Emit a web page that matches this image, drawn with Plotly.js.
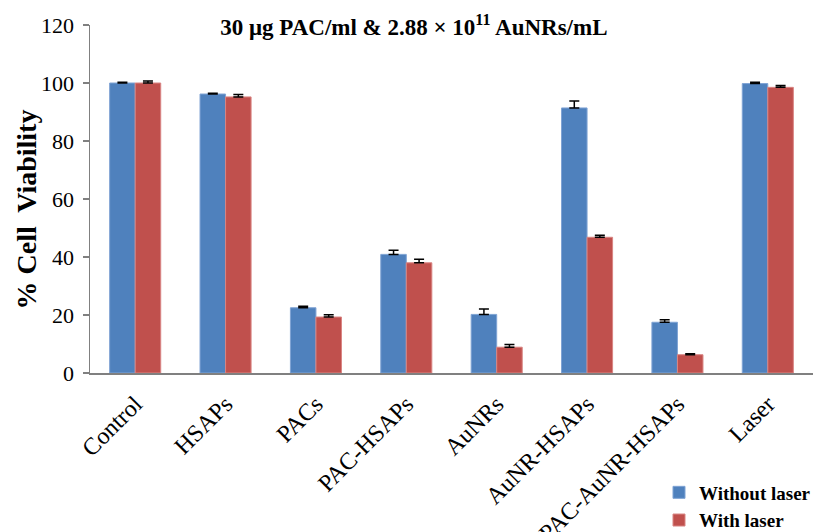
<!DOCTYPE html>
<html>
<head>
<meta charset="utf-8">
<script src="https://cdn.plot.ly/plotly-3.0.1.min.js"></script>
<style>html,body{margin:0;padding:0;background:#fff;}#chart{width:816px;height:532px;}</style>
</head>
<body>
<div id="chart"></div>
<script>
const categories = ["Control","HSAPs","PACs","PAC-HSAPs","AuNRs","AuNR-HSAPs","PAC-AuNR-HSAPs","Laser"];
const withoutLaser = [100.0, 96.2, 22.5, 40.9, 20.2, 91.4, 17.5, 99.8];
const withoutLaserErr = [0.3, 0.3, 0.5, 1.4, 1.9, 2.4, 0.9, 0.5];
const withLaser = [100.0, 95.2, 19.3, 38.0, 8.9, 46.8, 6.3, 98.5];
const withLaserErr = [0.7, 0.8, 0.8, 1.2, 0.9, 0.7, 0.3, 0.6];
const seriesNames = ["Without laser", "With laser"];
const zeros = categories.map(() => 0);

const serif = "Liberation Serif, Times New Roman, serif";
const legendName = s => '<span style="font-family:\'Liberation Serif\',serif;font-weight:bold">' + s + '</span>';

const traces = [
  {
    type: "bar", name: legendName(seriesNames[0]), x: categories, y: withoutLaser,
    marker: {color: "#4F81BD", line: {color: "#7FA3D4", width: 1}},
    error_y: {type: "data", symmetric: false, array: withoutLaserErr, arrayminus: zeros, color: "#000", thickness: 1.5, width: 5}
  },
  {
    type: "bar", name: legendName(seriesNames[1]), x: categories, y: withLaser,
    marker: {color: "#C0504D", line: {color: "#D98583", width: 1}},
    error_y: {type: "data", symmetric: false, array: withLaserErr, arrayminus: zeros, color: "#000", thickness: 1.5, width: 5}
  }
];

const layout = {
  width: 816, height: 532,
  margin: {l: 90, r: 3, t: 25, b: 159},
  paper_bgcolor: "#fff", plot_bgcolor: "#fff",
  font: {family: serif, color: "#000"},
  title: {
    text: "<b>30 μg PAC/ml &amp; 2.88 × 10<sup>11</sup> AuNRs/mL</b>",
    font: {family: serif, size: 23, color: "#000"},
    x: 0.448, xref: "paper", xanchor: "center", y: 0.95, yref: "container", yanchor: "middle"
  },
  barmode: "group", bargap: 0.435, bargroupgap: 0,
  xaxis: {
    tickangle: -45, automargin: false, showline: true, linecolor: "#808080", linewidth: 1.5,
    ticks: "", ticklabelstandoff: 6, tickfont: {family: serif, size: 24, color: "#000"}
  },
  yaxis: {
    range: [0, 120], dtick: 20, showgrid: false, zeroline: false, showline: true,
    linecolor: "#808080", linewidth: 1.5, ticks: "outside", ticklen: 6, tickcolor: "#808080", tickwidth: 1.5,
    ticklabelstandoff: 4,
    tickfont: {family: serif, size: 22, color: "#000"}, automargin: false
  },
  annotations: [{
    text: "% Cell  Viability", xref: "paper", yref: "paper", x: -0.0885, y: 0.47,
    xanchor: "center", yanchor: "middle", textangle: -90, showarrow: false,
    font: {family: serif, size: 28, color: "#000", weight: "bold"}
  }],
  showlegend: true,
  legend: {
    x: 0.83, y: 0.11, xanchor: "left", yanchor: "top", xref: "paper", yref: "container",
    font: {family: serif, size: 19, color: "#000", weight: "bold"}, itemwidth: 30, tracegroupgap: 5,
    bgcolor: "rgba(0,0,0,0)"
  }
};

Plotly.newPlot("chart", traces, layout, {displayModeBar: false, staticPlot: true});
</script>
</body>
</html>
